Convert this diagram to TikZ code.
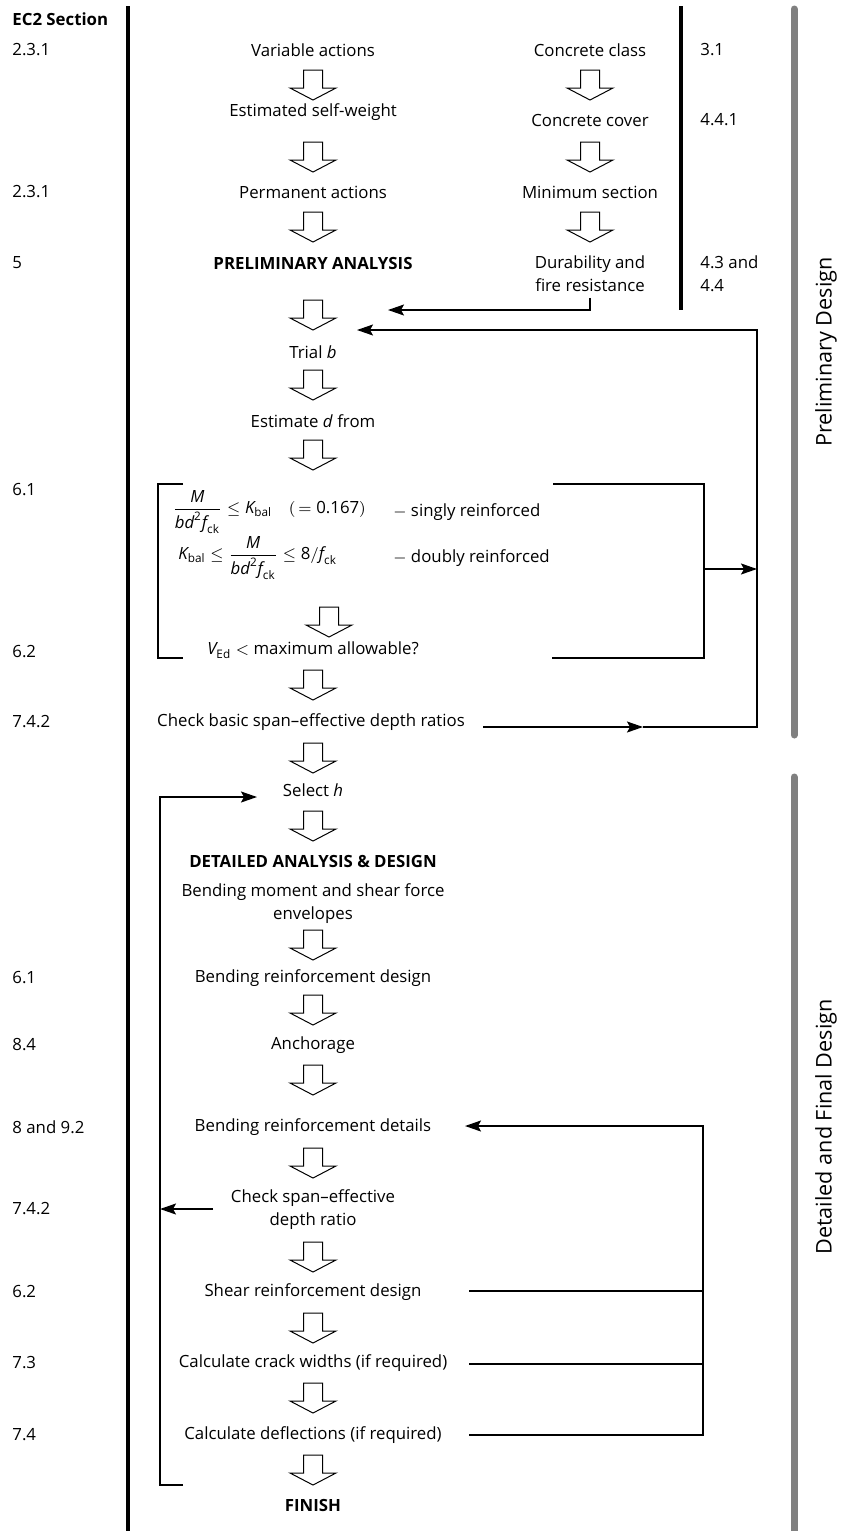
\documentclass[tikz,border=0pt]{standalone}
\usepackage{amsmath}
\usepackage{fontspec}
\setmainfont{Open Sans}
\usetikzlibrary{arrows.meta}

\newcommand\mvar[1]{\textit{#1}}

\begin{document}
\begin{tikzpicture}[x=0.5pt,y=-0.5pt,
    lbl/.style={font=\fontsize{8.4}{11.5}\selectfont, inner sep=0pt, align=center},
    sec/.style={lbl, anchor=west, align=left},
    head/.style={lbl, font=\fontsize{8.4}{11.5}\selectfont\bfseries},
    stage/.style={lbl, rotate=90, font=\fontsize{10.8}{12}\selectfont},
    link/.style={line width=0.75pt, -{Stealth[length=8pt,width=5.5pt,inset=1.5pt]}},
    wire/.style={line width=0.75pt},
    bar/.style={line width=1.8pt},
    band/.style={line width=3.5pt, line cap=round, color=gray},
    flow/.pic={\draw[line width=0.5pt] (-9.5,0) -- (-9.5,18) -- (-23,18) -- (0,30) -- (23,18) -- (9.5,18) -- (9.5,0) -- cycle;}]
\path[use as bounding box] (0,0) rectangle (845,1531);

% side bars
\draw[bar] (128,6) -- (128,1531);
\draw[bar] (681,6) -- (681,310);
\draw[band] (794,9) -- (794,735);
\draw[band] (794,777) -- (794,1531);
\node[stage] (pdesign) at (826,352) {Preliminary Design};
\node[stage] (fdesign) at (826,1127) {Detailed and Final Design};

% EC2 clause numbers
\node[sec, font=\fontsize{8.4}{11.5}\selectfont\bfseries] (ec2) at (12,19) {EC2 Section};
\node[sec] (s1) at (12,50) {2.3.1};
\node[sec] (s2) at (12,192) {2.3.1};
\node[sec] (s3) at (12,263) {5};
\node[sec] (s4) at (12,490) {6.1};
\node[sec] (s5) at (12,652) {6.2};
\node[sec] (s6) at (12,722) {7.4.2};
\node[sec] (s7) at (12,978) {6.1};
\node[sec] (s8) at (12,1045) {8.4};
\node[sec] (s9) at (12,1127) {8 and 9.2};
\node[sec] (s10) at (12,1209) {7.4.2};
\node[sec] (s11) at (12,1292) {6.2};
\node[sec] (s12) at (12,1363) {7.3};
\node[sec] (s13) at (12,1435) {7.4};
\node[sec] (r1) at (700,50) {3.1};
\node[sec] (r2) at (700,120) {4.4.1};
\node[sec] (r3) at (700,273.5) {4.3 and\\4.4};

% main column
\node[lbl] (va) at (313,50) {Variable actions};
\node[lbl] (sw) at (313,112) {Estimated self-weight};
\node[lbl] (pa) at (313,192) {Permanent actions};
\node[head] (prelim) at (313,263) {PRELIMINARY ANALYSIS};
\node[lbl] (trial) at (313,352) {Trial \mvar{b}};
\node[lbl] (estd) at (313,421) {Estimate \mvar{d} from};
\node[lbl, anchor=west] (sing) at (172,512)
  {$\dfrac{\mvar{M}}{\mvar{bd}^{\text{2}}\mvar{f}_{\text{ck}}} \leq \mvar{K}_{\text{bal}}\quad(\,= \text{0.167})$};
\node[lbl, anchor=west] (singt) at (393,512) {$-$ singly reinforced};
\node[lbl, anchor=west] (doub) at (178,558)
  {$\mvar{K}_{\text{bal}} \leq \dfrac{\mvar{M}}{\mvar{bd}^{\text{2}}\mvar{f}_{\text{ck}}} \leq \text{8}/\mvar{f}_{\text{ck}}$};
\node[lbl, anchor=west] (doubt) at (393,558) {$-$ doubly reinforced};
\node[lbl] (vmax) at (313,650) {$\mvar{V}_{\text{Ed}} <$ maximum allowable?};
\node[lbl] (chkbasic) at (311,722) {Check basic span--effective depth ratios};
\node[lbl] (selh) at (313,790) {Select \mvar{h}};
\node[head] (detail) at (313,861) {DETAILED ANALYSIS \& DESIGN};
\node[lbl] (envel) at (313,903.5) {Bending moment and shear force\\envelopes};
\node[lbl] (bend) at (313,978) {Bending reinforcement design};
\node[lbl] (anch) at (313,1045) {Anchorage};
\node[lbl] (bdet) at (313,1127) {Bending reinforcement details};
\node[lbl] (chkspan) at (313,1209.5) {Check span--effective\\depth ratio};
\node[lbl] (shear) at (313,1292) {Shear reinforcement design};
\node[lbl] (crack) at (313,1363) {Calculate crack widths (if required)};
\node[lbl] (defl) at (313,1435) {Calculate deflections (if required)};
\node[head] (finish) at (313,1505) {FINISH};

% second column
\node[lbl] (cc) at (590,50) {Concrete class};
\node[lbl] (cov) at (590,120) {Concrete cover};
\node[lbl] (mins) at (590,192) {Minimum section};
\node[lbl] (dur) at (590,273.5) {Durability and\\fire resistance};

% hollow arrows
\foreach \y in {70,142,212,300,370,440,670,743,811,930,995,1065,1148,1242,1313,1383,1455}
  \pic at (313,\y) {flow};
\pic at (329,607) {flow};
\foreach \y in {70,142,212}
  \pic at (590,\y) {flow};

% bracket round the section checks
\draw[wire] (183,484) -- (158,484) -- (158,658) -- (183,658);
\draw[wire] (553,484) -- (704,484) -- (704,658) -- (552,658);

% loop back to trial b
\coordinate (durin) at (388,310);
\coordinate (trialin) at (357,330);
\coordinate (brkout) at (704,569);
\coordinate (loopr) at (757,569);
\coordinate (basicout) at (483,727);
\coordinate (basicmid) at (643,727);
\coordinate (loopbot) at (757,727);
\draw[link] ([yshift=-3pt]dur.south) |- (durin);
\draw[link] (brkout) -- (loopr);
\draw[link] (basicout) -- (basicmid);
\draw[link] (basicmid) -- (loopbot) |- (trialin);

% loop back to details
\coordinate (shearout) at (469,1291);
\coordinate (crackout) at (469,1364);
\coordinate (deflout) at (469,1435);
\coordinate (rbot) at (703,1435);
\coordinate (rtop) at (703,1126);
\coordinate (bdetin) at (465,1126);
\draw[link] (deflout) -- (rbot) -- (rtop) -- (bdetin);
\draw[wire] (shearout) -- (703,1291);
\draw[wire] (crackout) -- (703,1364);

% loop back to select h
\coordinate (spanout) at (213,1209);
\coordinate (lmid) at (160,1209);
\coordinate (ltick) at (183,1485);
\coordinate (lbot) at (160,1485);
\coordinate (ltop) at (160,797);
\coordinate (selhin) at (257,797);
\draw[link] (spanout) -- (lmid);
\draw[link] (ltick) -- (lbot) -- (ltop) -- (selhin);
\end{tikzpicture}
\end{document}
